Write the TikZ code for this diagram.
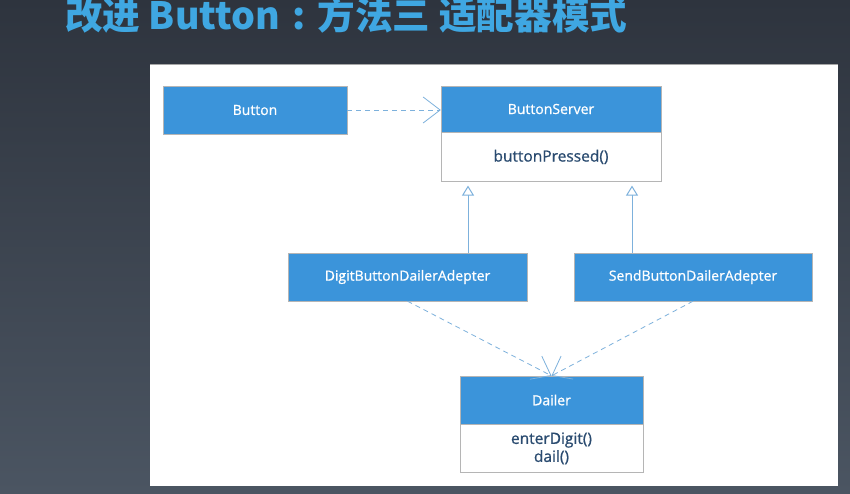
\documentclass[tikz,border=0pt]{standalone}
\usepackage{fontspec}
\setmainfont{Open Sans}
\newfontfamily\umlfont{Open Sans}[FakeBold=0.9]
\newfontfamily\cjk{Noto Sans CJK SC}
\usetikzlibrary{arrows, arrows.meta, shapes, positioning}

\definecolor{bgtop}{HTML}{2E343E}
\definecolor{bgbottom}{HTML}{4B5562}
\definecolor{titleblue}{HTML}{3FA7E2}
\definecolor{headblue}{HTML}{3B94DA}
\definecolor{linkblue}{HTML}{7DB1DC}
\definecolor{membertext}{HTML}{2A4B70}
\definecolor{boxline}{HTML}{B5B5B5}

\tikzset{
  classhead/.style={draw=boxline, fill=headblue, text=white, minimum height=48pt,
    inner sep=0pt, font=\umlfont\fontsize{14}{17}\selectfont},
  classbody/.style={draw=boxline, fill=white, text=membertext, minimum height=49pt,
    inner sep=0pt, align=center, font=\umlfont\fontsize{15.5}{18}\selectfont},
  depends/.style={color=linkblue, line width=0.8pt, dash pattern=on 5pt off 4pt,
    -{Straight Barb[length=17pt, width=26pt]}},
  realizes/.style={color=linkblue, line width=1pt, shorten >=4pt,
    -{Triangle[open, length=10pt, width=12pt, fill=white]}}
}

\begin{document}
\begin{tikzpicture}[x=1pt, y=-1pt]
        \useasboundingbox (0,0) rectangle (850,493);
        \shade[top color=bgtop, bottom color=bgbottom] (0,0) rectangle (850,493);
        \fill[white] (150,64) rectangle (838,486);
        \draw[gray!70, line width=0.8pt] (150,64) -- (838,64);

        \node[anchor=base west, inner sep=0pt, text=titleblue,
              font=\cjk\bfseries\fontsize{37.6}{38}\selectfont] (title) at (65,29)
              {改进 Button\makebox[1em][c]{:}方法三 适配器模式};

        \node[classhead, minimum width=184pt] (button) at (255,110) {Button};
        \node[classhead, minimum width=220pt, minimum height=46pt] (server) at (551,109) {ButtonServer};
        \node[classbody, minimum width=220pt, below=0pt of server] (serverops) {buttonPressed()};
        \node[classhead, minimum width=239pt] (digit) at (407.5,277) {DigitButtonDailerAdepter};
        \node[classhead, minimum width=238pt] (send) at (693,277) {SendButtonDailerAdepter};
        \node[classhead, minimum width=183pt] (dailer) at (551.5,400) {Dailer};
        \node[classbody, minimum width=183pt, minimum height=48pt, below=0pt of dailer] (dailerops)
              {enterDigit()\\dail()};

          \path[depends] (button.east) edge (button.east -| server.west)
                         (digit.south) edge (dailer.north)
                         (send.south) edge (dailer.north);
          \path[realizes] ([xshift=60.5pt]digit.north) edge ([xshift=60.5pt]digit.north |- serverops.south)
                          ([xshift=-61pt]send.north) edge ([xshift=-61pt]send.north |- serverops.south);
\end{tikzpicture}
\end{document}
